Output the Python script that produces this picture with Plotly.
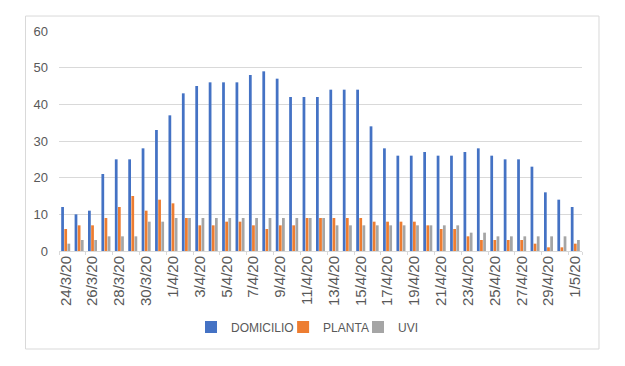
import plotly.graph_objects as go

dates = ["24/3/20", "25/3/20", "26/3/20", "27/3/20", "28/3/20", "29/3/20", "30/3/20", "31/3/20",
         "1/4/20", "2/4/20", "3/4/20", "4/4/20", "5/4/20", "6/4/20", "7/4/20", "8/4/20",
         "9/4/20", "10/4/20", "11/4/20", "12/4/20", "13/4/20", "14/4/20", "15/4/20", "16/4/20",
         "17/4/20", "18/4/20", "19/4/20", "20/4/20", "21/4/20", "22/4/20", "23/4/20", "24/4/20",
         "25/4/20", "26/4/20", "27/4/20", "28/4/20", "29/4/20", "30/4/20", "1/5/20"]

domicilio = [12, 10, 11, 21, 25, 25, 28, 33, 37, 43, 45, 46, 46, 46, 48, 49, 47, 42, 42, 42,
             44, 44, 44, 34, 28, 26, 26, 27, 26, 26, 27, 28, 26, 25, 25, 23, 16, 14, 12]
planta = [6, 7, 7, 9, 12, 15, 11, 14, 13, 9, 7, 7, 8, 8, 7, 6, 7, 7, 9, 9,
          9, 9, 9, 8, 8, 8, 8, 7, 6, 6, 4, 3, 3, 3, 3, 2, 1, 1, 2]
uvi = [2, 3, 3, 4, 4, 4, 8, 8, 9, 9, 9, 9, 9, 9, 9, 9, 9, 9, 9, 9,
       7, 7, 7, 7, 7, 7, 7, 7, 7, 7, 5, 5, 4, 4, 4, 4, 4, 4, 3]

tick_labels = dates[::2]
y_ticks = [0, 10, 20, 30, 40, 50, 60]

series = [("DOMICILIO", domicilio, "#4472C4", "legend"),
          ("PLANTA", planta, "#ED7D31", "legend2"),
          ("UVI", uvi, "#A5A5A5", "legend3")]

fig = go.Figure()
for name, vals, col, lg in series:
    fig.add_trace(go.Bar(x=dates, y=vals, name=name, legend=lg,
                         marker=dict(color=col, line=dict(width=0))))

txt = "#595959"


def legend_at(xp):
    return dict(orientation="h", x=xp, xanchor="left", y=-0.3455, yanchor="middle",
                font=dict(size=12, color=txt), itemwidth=30, bgcolor="rgba(0,0,0,0)",
                borderwidth=0)


fig.update_layout(
    width=625, height=366,
    margin=dict(l=59, r=43, t=31, b=115),
    paper_bgcolor="white", plot_bgcolor="white",
    barmode="group", bargap=0.3, bargroupgap=0.12,
    font=dict(family="Liberation Sans, Arial, sans-serif", color=txt),
    showlegend=True,
    legend=legend_at(0.2524),
    legend2=legend_at(0.4285),
    legend3=legend_at(0.5717),
    xaxis=dict(type="category", categoryorder="array", categoryarray=dates,
               tickmode="array", tickvals=tick_labels, ticktext=tick_labels,
               tickangle=-90, tickfont=dict(size=15, color=txt),
               showline=True, linecolor="#D9D9D9", linewidth=1,
               ticks="outside", ticklen=3, tickcolor="#D9D9D9", tickson="boundaries",
               ticklabelstandoff=-2,
               showgrid=False, zeroline=False, fixedrange=True),
    yaxis=dict(range=[0, 60], tickmode="array", tickvals=y_ticks,
               tickfont=dict(size=13, color=txt), ticklabelstandoff=10,
               showgrid=True, gridcolor="#D9D9D9", gridwidth=1,
               zeroline=False, showline=False, fixedrange=True),
    shapes=[dict(type="rect", xref="paper", yref="paper",
                 x0=-0.064, x1=1.0325, y0=-0.4455, y1=1.068,
                 line=dict(color="#D9D9D9", width=1), fillcolor="rgba(0,0,0,0)", layer="below")],
)

fig.write_html("out.html", config={"displayModeBar": False},
               post_script="document.body.style.margin='0';")
